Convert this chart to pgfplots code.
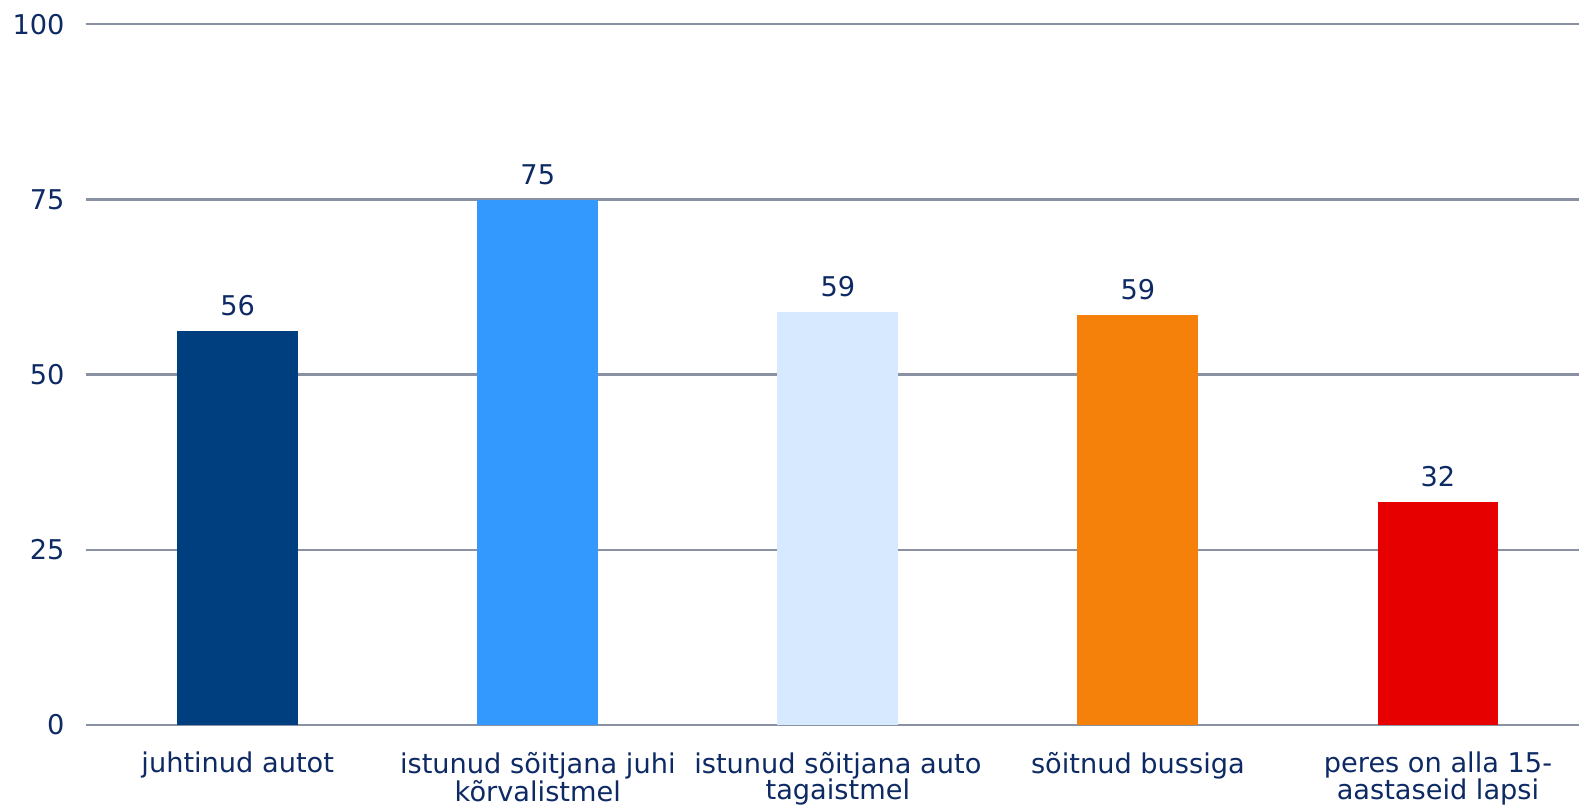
\documentclass[border=0pt]{standalone}
\usepackage{pgfplots}
\pgfplotsset{compat=1.18}
\usepackage{fontspec}
\setmainfont{DejaVu Sans}
\definecolor{txt}{RGB}{14,42,100}
\definecolor{gridc}{RGB}{138,145,163}
\definecolor{cA}{RGB}{0,63,127}
\definecolor{cB}{RGB}{51,153,255}
\definecolor{cC}{RGB}{214,233,255}
\definecolor{cD}{RGB}{245,128,10}
\definecolor{cE}{RGB}{230,0,0}
\begin{document}
\begin{tikzpicture}
\begin{axis}[
  at={(0,0)}, anchor=south west,
  scale only axis,
  width=746.7pt, height=350.4pt,
  xmin=-0.507, xmax=4.47,
  ymin=0, ymax=100,
  ytick={0,25,50,75,100},
  xtick={0,1,2,3,4},
  xticklabels={{juhtinud autot},{istunud sõitjana juhi\\kõrvalistmel},{istunud sõitjana auto\\tagaistmel},{sõitnud bussiga},{peres on alla 15-\\aastaseid lapsi}},
  axis line style={draw=none},
  major tick length=0pt,
  ymajorgrids,
  axis on top=false,
  grid style={gridc, line width=1.2pt},
  tick label style={font=\fontsize{13.6}{13.2}\selectfont, text=txt},
  /pgf/number format/assume math mode=true,
  xticklabel style={align=center, anchor=north, yshift=-10pt},
  yticklabel style={anchor=east, xshift=-7pt},
  bar width=0.403,
  nodes near coords,
  point meta=explicit symbolic,
  every node near coord/.append style={font=\fontsize{13.6}{14}\selectfont, text=txt, yshift=4pt},
  clip=false,
]
\addplot[ybar, fill=cA, draw=none] coordinates {(0,56.2) [56]};
\addplot[ybar, fill=cB, draw=none] coordinates {(1,74.9) [75]};
\addplot[ybar, fill=cC, draw=none] coordinates {(2,58.9) [59]};
\addplot[ybar, fill=cD, draw=none] coordinates {(3,58.5) [59]};
\addplot[ybar, fill=cE, draw=none] coordinates {(4,31.8) [32]};
\end{axis}
\pgfresetboundingbox
\path (-42.8pt,-42.5pt) rectangle (746.7pt,362.5pt);
\end{tikzpicture}
\end{document}
